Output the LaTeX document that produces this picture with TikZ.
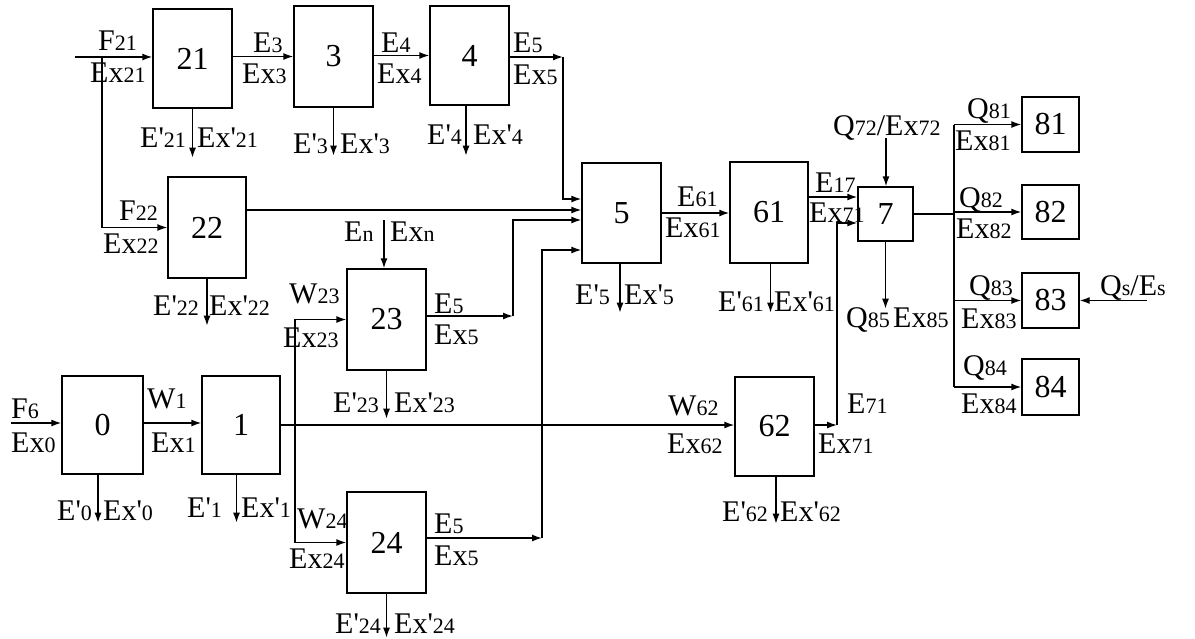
\documentclass[tikz,border=0pt]{standalone}
\usepackage{fontspec}
\newfontfamily\lf{Liberation Serif}
\newfontfamily\nf{Liberation Serif}
\usetikzlibrary{arrows.meta}
\newcommand{\dg}[1]{{\fontsize{22}{22}\selectfont #1}}
\tikzset{
  bx/.style={draw, line width=1.4pt, inner sep=0pt, font=\nf\fontsize{32}{32}\selectfont},
  lbl/.style={anchor=base west, inner sep=0pt, font=\lf\fontsize{30}{30}\selectfont},
  ln/.style={line width=1.4pt},
  arr/.style={ln, -{Latex[length=10pt,width=7pt]}},
}
\newcommand{\lab}[3]{\node[lbl] (#1) at (#2) {#3};}
\begin{document}
\begin{tikzpicture}[x=1pt,y=-1pt]
\useasboundingbox (0,0) rectangle (1195,638);
% boxes
\node[bx, minimum width=79pt, minimum height=99pt] (b21) at (192.5,58.5) {21};
\node[bx, minimum width=79pt, minimum height=101pt] (b3) at (333.5,56.5) {3};
\node[bx, minimum width=79pt, minimum height=99pt] (b4) at (469.5,55.5) {4};
\node[bx, minimum width=78pt, minimum height=101pt] (b22) at (207,227.5) {22};
\node[bx, minimum width=79pt, minimum height=100pt] (b5) at (621.5,213) {5};
\node[bx, minimum width=78pt, minimum height=101pt] (b61) at (769,212.5) {61};
\node[bx, minimum width=55pt, minimum height=54pt] (b7) at (885.5,214) {7};
\node[bx, minimum width=57pt, minimum height=55pt] (b81) at (1050.5,124.5) {81};
\node[bx, minimum width=57pt, minimum height=54pt] (b82) at (1050.5,212) {82};
\node[bx, minimum width=57pt, minimum height=55pt] (b83) at (1050.5,300.5) {83};
\node[bx, minimum width=57pt, minimum height=56pt] (b84) at (1050.5,387) {84};
\node[bx, minimum width=79pt, minimum height=101pt] (b23) at (386.5,319.5) {23};
\node[bx, minimum width=81pt, minimum height=98pt] (b0) at (102.5,425) {0};
\node[bx, minimum width=78pt, minimum height=98pt] (b1) at (241,425) {1};
\node[bx, minimum width=79pt, minimum height=99pt] (b62) at (774.5,426.5) {62};
\node[bx, minimum width=79pt, minimum height=101pt] (b24) at (386.5,542.5) {24};
% top chain
\coordinate (in21) at (75,57);
\draw[arr] (in21) -- (in21 -| b21.west);
\coordinate (br21) at (102,57);
\draw[arr] (br21) |- (b22.west);
\draw[arr] (b21.east |- b3.west) -- (b3.west);
\draw[arr] (b3.east |- b4.west) -- (b4.west);
\coordinate (c4) at (563,57);
\draw[arr] (b4.east |- c4) -- (c4);
\coordinate (p51) at ([yshift=14pt]b5.west);
\coordinate (p52) at ([yshift=3pt]b5.west);
\coordinate (p53) at ([yshift=-7pt]b5.west);
\coordinate (p54) at ([yshift=-37pt]b5.west);
\draw[arr] (c4) |- (p51);
\draw[arr] (b22.east |- p52) -- (p52);
\coordinate (c23) at (513,316);
\draw[arr] (b23.east |- c23) -- (c23);
\draw[arr] (c23) |- (p53);
\coordinate (c24) at (542,538);
\draw[arr] (b24.east |- c24) -- (c24);
\draw[arr] (c24) |- (p54);
\coordinate (en) at (384,220);
\draw[arr] (en) -- (en |- b23.north);
% bottom chain
\coordinate (f6) at (11,423);
\draw[arr] (f6) -- (f6 -| b0.west);
\draw[arr] (b0.east |- f6) -- (b1.west |- f6);
\draw[arr] (b1.east) -- (b1.east -| b62.west);
\coordinate (v1) at (295,425);
\draw[arr] (v1) |- (b23.west);
\draw[arr] (v1) |- (b24.west);
\coordinate (c62) at (837,425);
\draw[arr] (b62.east |- c62) -- (c62);
\draw[arr] (c62) |- ([yshift=-9pt]b7.west);
\coordinate (p71) at ([yshift=17pt]b7.west);
\draw[arr] (b61.east |- p71) -- (p71);
\draw[arr] (b5.east) -- (b5.east -| b61.west);
\coordinate (q72) at (886,138);
\draw[arr] (q72) -- (q72 |- b7.north);
\draw[arr] (b7.south) -- ++(0,67);
\coordinate (bus) at (954,0);
\draw[ln] (b7.east) -- (b7.east -| bus);
\draw[ln] (b81.west -| bus) -- (b84.west -| bus);
\foreach \b in {b81,b82,b83,b84} \draw[arr] (\b.west -| bus) -- (\b.west);
\coordinate (qs) at (1147,300.5);
\draw[arr] (qs) -- (qs -| b83.east);
% down arrows
\draw[arr] (b21.south) -- ++(0,49);
\draw[arr] (b3.south) -- ++(0,48);
\draw[arr] ([xshift=-3.5pt]b4.south) -- ++(0,50);
\draw[arr] (b22.south) -- ++(0,47);
\draw[arr] (b23.south) -- ++(0,48);
\draw[arr] ([xshift=-4.5pt]b0.south) -- ++(0,48);
\draw[arr] ([xshift=-4.5pt]b1.south) -- ++(0,48);
\draw[arr] (b24.south) -- ++(0,44);
\draw[arr] ([xshift=-1.5pt]b5.south) -- ++(0,49);
\draw[arr] ([xshift=1.5pt]b61.south) -- ++(0,49);
\draw[arr] ([xshift=1.5pt]b62.south) -- ++(0,47);
% labels
\lab{l1}{98,50}{F\dg{21}}
\lab{l2}{90,82}{Ex\dg{21}}
\lab{l3}{253,52}{E\dg{3}}
\lab{l4}{242,83}{Ex\dg{3}}
\lab{l5}{381,52}{E\dg{4}}
\lab{l6}{377,83}{Ex\dg{4}}
\lab{l7}{513,52}{E\dg{5}}
\lab{l8}{513,84}{Ex\dg{5}}
\lab{l9}{140,147}{E'\dg{21}}
\lab{l10}{197,147}{Ex'\dg{21}}
\lab{l11}{293,153}{E'\dg{3}}
\lab{l12}{340,153}{Ex'\dg{3}}
\lab{l13}{427,144}{E'\dg{4}}
\lab{l14}{473,144}{Ex'\dg{4}}
\lab{l15}{119,220}{F\dg{22}}
\lab{l16}{103,253}{Ex\dg{22}}
\lab{l17}{153,315}{E'\dg{22}}
\lab{l18}{209,315}{Ex'\dg{22}}
\lab{l19}{344,241}{E\dg{n}}
\lab{l20}{390,241}{Ex\dg{n}}
\lab{l21}{289,303}{W\dg{23}}
\lab{l22}{283,347}{Ex\dg{23}}
\lab{l23}{434,313}{E\dg{5}}
\lab{l24}{434,344}{Ex\dg{5}}
\lab{l25}{333,412}{E'\dg{23}}
\lab{l26}{394,412}{Ex'\dg{23}}
\lab{l27}{11,418}{F\dg{6}}
\lab{l28}{11,452}{Ex\dg{0}}
\lab{l29}{147,408}{W\dg{1}}
\lab{l30}{151,452}{Ex\dg{1}}
\lab{l31}{57,520}{E'\dg{0}}
\lab{l32}{103,520}{Ex'\dg{0}}
\lab{l33}{187,517}{E'\dg{1}}
\lab{l34}{241,517}{Ex'\dg{1}}
\lab{l35}{297,528}{W\dg{24}}
\lab{l36}{289,568}{Ex\dg{24}}
\lab{l37}{434,533}{E\dg{5}}
\lab{l38}{434,565}{Ex\dg{5}}
\lab{l39}{335,633}{E'\dg{24}}
\lab{l40}{394,633}{Ex'\dg{24}}
\lab{l41}{677,206}{E\dg{61}}
\lab{l42}{665,237}{Ex\dg{61}}
\lab{l43}{575,304}{E'\dg{5}}
\lab{l44}{624,304}{Ex'\dg{5}}
\lab{l45}{718,311}{E'\dg{61}}
\lab{l46}{774,311}{Ex'\dg{61}}
\lab{l47}{815,192}{E\dg{17}}
\lab{l48}{809,222}{Ex\dg{71}}
\lab{l49}{833,135}{Q\dg{72}/Ex\dg{72}}
\lab{l50}{846,327}{Q\dg{85}}
\lab{l51}{893,327}{Ex\dg{85}}
\lab{l52}{967,118}{Q\dg{81}}
\lab{l53}{955,150}{Ex\dg{81}}
\lab{l54}{959,207}{Q\dg{82}}
\lab{l55}{956,238}{Ex\dg{82}}
\lab{l56}{969,295}{Q\dg{83}}
\lab{l57}{961,328}{Ex\dg{83}}
\lab{l58}{963,375}{Q\dg{84}}
\lab{l59}{961,413}{Ex\dg{84}}
\lab{l60}{1100,295}{Q\dg{s}/E\dg{s}}
\lab{l61}{668,415}{W\dg{62}}
\lab{l62}{667,453}{Ex\dg{62}}
\lab{l63}{847,413}{E\dg{71}}
\lab{l64}{818,453}{Ex\dg{71}}
\lab{l65}{722,521}{E'\dg{62}}
\lab{l66}{780,521}{Ex'\dg{62}}
\end{tikzpicture}
\end{document}
